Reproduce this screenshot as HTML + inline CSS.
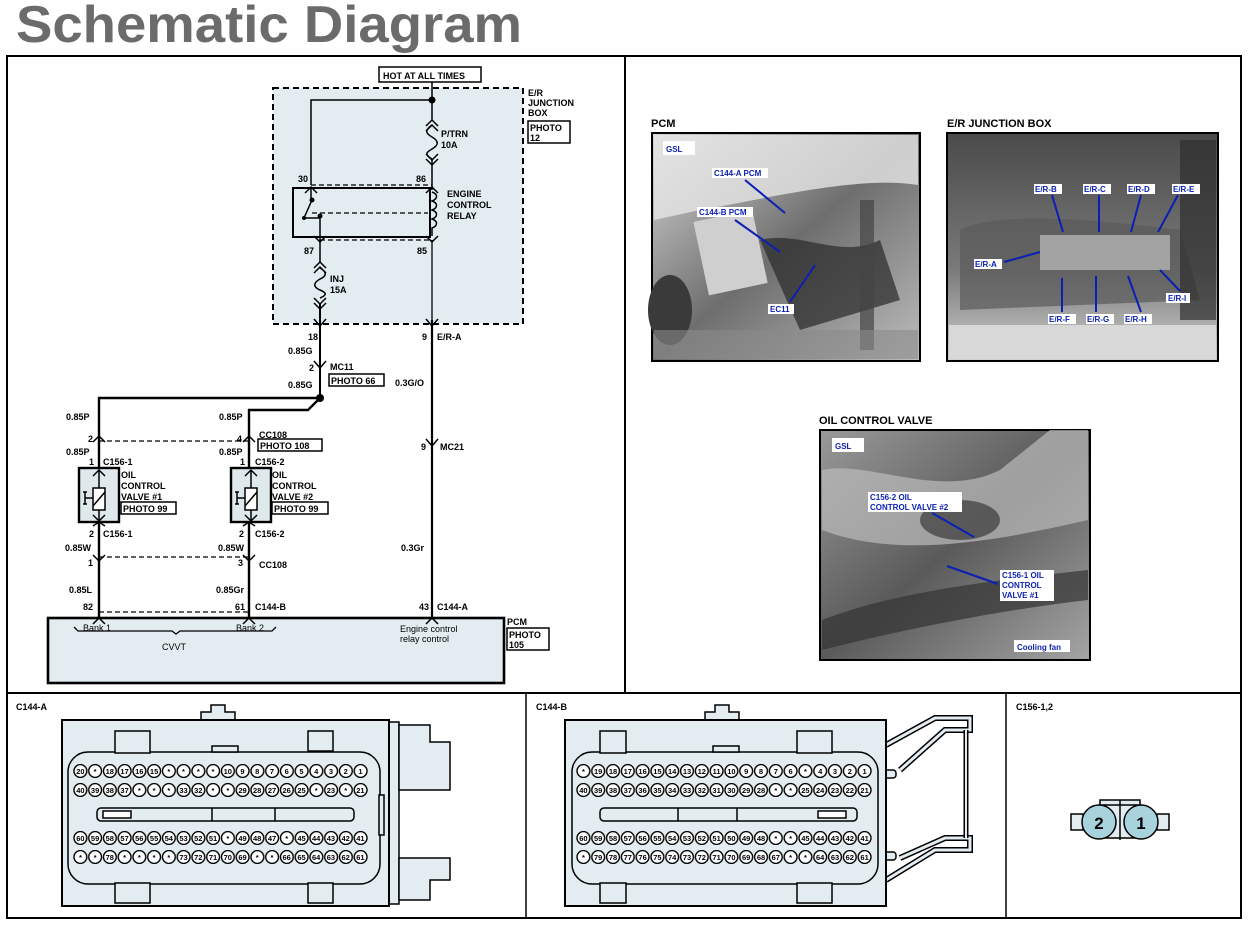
<!DOCTYPE html>
<html><head><meta charset="utf-8"><style>
html,body{margin:0;padding:0;background:#fff;}
svg{display:block;}
text{font-family:"Liberation Sans",sans-serif;}
.s{font-size:9px;font-weight:bold;fill:#000;}
.b{font-size:8px;font-weight:bold;fill:#0a1fb4;}
.p{font-size:7.5px;font-weight:bold;fill:#000;text-anchor:middle;}
</style></head><body>
<svg width="1248" height="926" viewBox="0 0 1248 926" xmlns="http://www.w3.org/2000/svg">
<defs>
<linearGradient id="g1" x1="0" y1="0" x2="1" y2="1"><stop offset="0" stop-color="#d8d8d8"/><stop offset="0.5" stop-color="#6e6e6e"/><stop offset="1" stop-color="#bdbdbd"/></linearGradient>
<linearGradient id="g2" x1="0" y1="0" x2="0" y2="1"><stop offset="0" stop-color="#4a4a4a"/><stop offset="0.6" stop-color="#7a7a7a"/><stop offset="1" stop-color="#cfcfcf"/></linearGradient>
<linearGradient id="g3" x1="0" y1="0" x2="1" y2="1"><stop offset="0" stop-color="#9a9a9a"/><stop offset="0.5" stop-color="#5a5a5a"/><stop offset="1" stop-color="#a5a5a5"/></linearGradient>
<pattern id="pa" x="0" y="0" width="0.05" height="1" patternUnits="objectBoundingBox" patternContentUnits="userSpaceOnUse"><circle cx="7.37" cy="7" r="6.4" fill="#fff" stroke="#000" stroke-width="1.4"/></pattern>
<pattern id="pb" x="0" y="0" width="0.05" height="1" patternUnits="objectBoundingBox" patternContentUnits="userSpaceOnUse"><circle cx="7.4" cy="7" r="6.4" fill="#fff" stroke="#000" stroke-width="1.4"/></pattern>
</defs>

<text x="16" y="42" font-size="52" font-weight="bold" fill="#6b6b6b" textLength="506" lengthAdjust="spacingAndGlyphs">Schematic Diagram</text>

<!-- frames -->
<rect x="7" y="56" width="1234" height="862" fill="none" stroke="#000" stroke-width="2"/>
<line x1="625" y1="56" x2="625" y2="693" stroke="#000" stroke-width="2"/>
<line x1="7" y1="693" x2="1241" y2="693" stroke="#000" stroke-width="2"/>
<line x1="526" y1="693" x2="526" y2="918" stroke="#000" stroke-width="1.5"/>
<line x1="1006" y1="693" x2="1006" y2="918" stroke="#000" stroke-width="1.5"/>

<!-- ===== SCHEMATIC ===== -->
<g stroke="#000" fill="none">
<rect x="273" y="88" width="250" height="236" fill="#e3edf1" stroke-width="2" stroke-dasharray="6,4"/>
<rect x="379" y="67" width="102" height="15" fill="#fff" stroke-width="1.5"/>
<line x1="432" y1="82" x2="432" y2="120" stroke-width="1.5"/>
<polyline points="311,185 311,100 432,100" stroke-width="1.5"/>
<polyline points="426,126 432,120 438,126" stroke-width="1.5"/>
<polyline points="426,131 432,125 438,131" stroke-width="1.5"/>
<path d="M432,125 c-7,5 -7,8 0,12 c7,4 7,8 0,12 c-7,4 -7,6 0,10" stroke-width="1.5"/>
<polyline points="426,154 432,160 438,154" stroke-width="1.5"/>
<polyline points="426,159 432,165 438,159" stroke-width="1.5"/>
<line x1="432" y1="160" x2="432" y2="190" stroke-width="1.5"/>
<line x1="311" y1="185" x2="432" y2="185" stroke-width="1.3" stroke-dasharray="5,3"/>
<polyline points="305,193 311,187 317,193" stroke-width="1.5"/>
<polyline points="426,193 432,187 438,193" stroke-width="1.5"/>
<rect x="293" y="188" width="137" height="49" stroke-width="2"/>
<line x1="311" y1="187" x2="311" y2="200" stroke-width="1.5"/>
<polyline points="312,200 304,218 320,218" stroke-width="1.5"/>
<line x1="320" y1="214" x2="320" y2="242" stroke-width="1.5"/>
<line x1="312" y1="213" x2="428" y2="213" stroke-width="1.3" stroke-dasharray="5,3"/>
<path d="M432,192 c6,2 6,7 0,9 c6,2 6,7 0,9 c6,2 6,7 0,9 c6,2 6,7 0,9 l0,8" stroke-width="1.5"/>
<polyline points="314,236 320,242 326,236" stroke-width="1.5"/>
<polyline points="426,236 432,242 438,236" stroke-width="1.5"/>
<line x1="320" y1="240" x2="432" y2="240" stroke-width="1.3" stroke-dasharray="5,3"/>
<line x1="320" y1="242" x2="320" y2="262" stroke-width="1.5"/>
<polyline points="314,268 320,262 326,268" stroke-width="1.5"/>
<polyline points="314,273 320,267 326,273" stroke-width="1.5"/>
<path d="M320,268 c7,4 7,8 0,11 c-7,4 -7,8 0,11 c7,3 7,5 0,8" stroke-width="1.5"/>
<polyline points="314,298 320,304 326,298" stroke-width="1.5"/>
<polyline points="314,303 320,309 326,303" stroke-width="1.5"/>
<line x1="320" y1="304" x2="320" y2="398" stroke-width="2"/>
<line x1="432" y1="240" x2="432" y2="320" stroke-width="1.3"/>
<line x1="432" y1="320" x2="432" y2="618" stroke-width="2.2"/>
<polyline points="314,319 320,326 326,319" stroke-width="1.5"/>
<polyline points="426,319 432,326 438,319" stroke-width="1.5"/>
<polyline points="314,361 320,368 326,361" stroke-width="1.5"/>
<polyline points="426,439 432,446 438,439" stroke-width="1.5"/>
<rect x="329" y="374" width="55" height="12" stroke-width="1.5"/>
<polyline points="320,398 99,398 99,618" stroke-width="2.4"/>
<polyline points="320,398 308,410 249,410 249,618" stroke-width="2.4"/>
<polyline points="93,442 99,436 105,442" stroke-width="1.5"/>
<polyline points="243,442 249,436 255,442" stroke-width="1.5"/>
<line x1="99" y1="441" x2="249" y2="441" stroke-width="1.3" stroke-dasharray="5,3"/>
<rect x="258" y="439" width="64" height="12" stroke-width="1.5"/>
<rect x="79" y="468" width="40" height="54" fill="#dfe9ec" stroke-width="2.4"/>
<rect x="231" y="468" width="40" height="54" fill="#dfe9ec" stroke-width="2.4"/>
<polyline points="93,476 99,470 105,476" stroke-width="1.5"/>
<polyline points="93,515 99,521 105,515" stroke-width="1.5"/>
<polyline points="245,476 251,470 257,476" stroke-width="1.5"/>
<polyline points="245,515 251,521 257,515" stroke-width="1.5"/>
<line x1="99" y1="470" x2="99" y2="488" stroke-width="1.5"/><line x1="99" y1="510" x2="99" y2="521" stroke-width="1.5"/>
<line x1="251" y1="470" x2="251" y2="488" stroke-width="1.5"/><line x1="251" y1="510" x2="251" y2="521" stroke-width="1.5"/>
<rect x="93" y="488" width="12" height="22" fill="#fff" stroke-width="1.5"/>
<rect x="245" y="488" width="12" height="22" fill="#fff" stroke-width="1.5"/>
<line x1="93" y1="506" x2="105" y2="492" stroke-width="1.5"/><line x1="245" y1="506" x2="257" y2="492" stroke-width="1.5"/>
<path d="M85,492 v12 M83,492 h4 M83,504 h4 M85,498 h8" stroke-width="1.5"/>
<path d="M237,492 v12 M235,492 h4 M235,504 h4 M237,498 h8" stroke-width="1.5"/>
<rect x="121" y="502" width="55" height="12" stroke-width="1.5"/>
<rect x="272" y="502" width="56" height="12" stroke-width="1.5"/>
<polyline points="93,526 99,522 105,526" stroke-width="1.5"/>
<polyline points="243,526 249,522 255,526" stroke-width="1.5"/>
<polyline points="93,555 99,561 105,555" stroke-width="1.5"/>
<polyline points="243,555 249,561 255,555" stroke-width="1.5"/>
<line x1="99" y1="557" x2="249" y2="557" stroke-width="1.3" stroke-dasharray="5,3"/>
<line x1="99" y1="612" x2="249" y2="612" stroke-width="1.3" stroke-dasharray="5,3"/>
<rect x="48" y="618" width="456" height="65" fill="#e3edf1" stroke-width="2.6"/>
<polyline points="93,624 99,618 105,624" stroke-width="1.5"/>
<polyline points="243,624 249,618 255,624" stroke-width="1.5"/>
<polyline points="426,624 432,618 438,624" stroke-width="1.5"/>
<path d="M74,627 l4,4 h94 l4,3 l4,-3 h92 l4,-4" stroke-width="1.3"/>
<rect x="528" y="121" width="42" height="22" stroke-width="1.5"/>
<rect x="507" y="628" width="42" height="22" stroke-width="1.5"/>
</g>
<circle cx="432" cy="100" r="3.5" fill="#000"/>
<circle cx="320" cy="398" r="4" fill="#000"/>
<circle cx="312" cy="200" r="2.5" fill="#000"/>
<circle cx="320" cy="216" r="2.5" fill="#000"/>
<circle cx="304" cy="218" r="2" fill="#000"/>

<g class="s">
<text x="383" y="79">HOT AT ALL TIMES</text>
<text x="528" y="96">E/R</text><text x="528" y="106">JUNCTION</text><text x="528" y="116">BOX</text>
<text x="530" y="131">PHOTO</text><text x="530" y="141">12</text>
<text x="441" y="137">P/TRN</text><text x="441" y="148">10A</text>
<text x="298" y="182">30</text><text x="416" y="182">86</text>
<text x="447" y="197">ENGINE</text><text x="447" y="208">CONTROL</text><text x="447" y="219">RELAY</text>
<text x="304" y="254">87</text><text x="417" y="254">85</text>
<text x="330" y="282">INJ</text><text x="330" y="293">15A</text>
<text x="308" y="340">18</text><text x="422" y="340">9</text><text x="437" y="340">E/R-A</text>
<text x="288" y="354">0.85G</text>
<text x="309" y="371">2</text><text x="330" y="370">MC11</text>
<text x="331" y="384">PHOTO 66</text>
<text x="288" y="388">0.85G</text><text x="395" y="386">0.3G/O</text>
<text x="66" y="420">0.85P</text><text x="219" y="420">0.85P</text>
<text x="88" y="442">2</text><text x="237" y="442">4</text><text x="259" y="438">CC108</text>
<text x="260" y="449">PHOTO 108</text>
<text x="421" y="450">9</text><text x="440" y="450">MC21</text>
<text x="66" y="455">0.85P</text><text x="219" y="455">0.85P</text>
<text x="89" y="465">1</text><text x="103" y="465">C156-1</text>
<text x="240" y="465">1</text><text x="255" y="465">C156-2</text>
<text x="121" y="478">OIL</text><text x="121" y="489">CONTROL</text><text x="121" y="500">VALVE #1</text>
<text x="123" y="512">PHOTO 99</text>
<text x="272" y="478">OIL</text><text x="272" y="489">CONTROL</text><text x="272" y="500">VALVE #2</text>
<text x="274" y="512">PHOTO 99</text>
<text x="89" y="537">2</text><text x="103" y="537">C156-1</text>
<text x="239" y="537">2</text><text x="255" y="537">C156-2</text>
<text x="65" y="551">0.85W</text><text x="218" y="551">0.85W</text><text x="401" y="551">0.3Gr</text>
<text x="88" y="566">1</text><text x="238" y="566">3</text><text x="259" y="568">CC108</text>
<text x="69" y="593">0.85L</text><text x="216" y="593">0.85Gr</text>
<text x="83" y="610">82</text><text x="235" y="610">61</text><text x="255" y="610">C144-B</text>
<text x="419" y="610">43</text><text x="437" y="610">C144-A</text>
<text x="507" y="625">PCM</text><text x="509" y="638">PHOTO</text><text x="509" y="648">105</text>
</g>
<g font-size="9" fill="#000">
<text x="83" y="631">Bank 1</text><text x="236" y="631">Bank 2</text><text x="162" y="650">CVVT</text>
<text x="400" y="632">Engine control</text><text x="400" y="642">relay control</text>
</g>

<!-- ===== PHOTOS ===== -->
<text x="651" y="127" font-size="11" font-weight="bold">PCM</text>
<text x="947" y="127" font-size="11" font-weight="bold">E/R JUNCTION BOX</text>
<text x="819" y="424" font-size="11" font-weight="bold">OIL CONTROL VALVE</text>

<g>
<rect x="652" y="133" width="268" height="228" fill="url(#g1)" stroke="#000" stroke-width="2"/>
<path d="M654,135 H918 V185 C860,175 760,200 700,210 L654,220Z" fill="#e6e6e6" opacity="0.8"/>
<rect x="700" y="215" width="60" height="75" fill="#cfcfcf" transform="rotate(-12 730 250)"/>
<path d="M760,240 C800,230 840,260 880,240 L900,300 L800,330 Z" fill="#2a2a2a" opacity="0.7"/>
<ellipse cx="670" cy="310" rx="22" ry="35" fill="#3a3a3a"/>
<rect x="860" y="200" width="14" height="150" fill="#444" opacity="0.7"/>
<rect x="654" y="330" width="264" height="29" fill="#8a8a8a" opacity="0.6"/>
<rect x="663" y="141" width="32" height="14" fill="#fff"/><text x="666" y="152" class="b" font-size="10">GSL</text>
<rect x="712" y="168" width="56" height="10" fill="#fff"/><text x="714" y="176" class="b">C144-A PCM</text>
<rect x="697" y="207" width="56" height="10" fill="#fff"/><text x="699" y="215" class="b">C144-B PCM</text>
<rect x="768" y="304" width="26" height="10" fill="#fff"/><text x="770" y="312" class="b">EC11</text>
<g stroke="#0a1fb4" stroke-width="2"><line x1="745" y1="180" x2="785" y2="213"/><line x1="735" y1="220" x2="780" y2="252"/><line x1="790" y1="302" x2="815" y2="265"/></g>
</g>

<g>
<rect x="947" y="133" width="271" height="228" fill="url(#g2)" stroke="#000" stroke-width="2"/>
<path d="M960,230 C1000,210 1100,220 1180,230 L1200,300 L960,310Z" fill="#5a5a5a" opacity="0.7"/>
<rect x="1040" y="235" width="130" height="35" fill="#cfcfcf" opacity="0.6"/>
<rect x="949" y="325" width="267" height="34" fill="#d8d8d8"/>
<rect x="1180" y="140" width="36" height="180" fill="#2e2e2e" opacity="0.7"/>
<g class="b"><rect x="1034" y="184" width="28" height="10" fill="#fff"/><text x="1035" y="192">E/R-B</text>
<rect x="1083" y="184" width="28" height="10" fill="#fff"/><text x="1084" y="192">E/R-C</text>
<rect x="1127" y="184" width="28" height="10" fill="#fff"/><text x="1128" y="192">E/R-D</text>
<rect x="1172" y="184" width="28" height="10" fill="#fff"/><text x="1173" y="192">E/R-E</text>
<rect x="974" y="259" width="28" height="10" fill="#fff"/><text x="975" y="267">E/R-A</text>
<rect x="1048" y="314" width="28" height="10" fill="#fff"/><text x="1049" y="322">E/R-F</text>
<rect x="1086" y="314" width="28" height="10" fill="#fff"/><text x="1087" y="322">E/R-G</text>
<rect x="1124" y="314" width="28" height="10" fill="#fff"/><text x="1125" y="322">E/R-H</text>
<rect x="1166" y="293" width="24" height="10" fill="#fff"/><text x="1168" y="301">E/R-I</text></g>
<g stroke="#0a1fb4" stroke-width="2"><line x1="1052" y1="195" x2="1063" y2="232"/><line x1="1099" y1="195" x2="1099" y2="232"/><line x1="1141" y1="195" x2="1131" y2="232"/><line x1="1178" y1="195" x2="1158" y2="232"/><line x1="1004" y1="262" x2="1040" y2="252"/><line x1="1062" y1="312" x2="1062" y2="278"/><line x1="1096" y1="312" x2="1096" y2="276"/><line x1="1141" y1="312" x2="1128" y2="276"/><line x1="1180" y1="291" x2="1160" y2="270"/></g>
</g>

<g>
<rect x="820" y="430" width="270" height="230" fill="url(#g3)" stroke="#000" stroke-width="2"/>
<path d="M822,470 C870,460 940,500 1000,470 L1050,430 H1088 V520 C1000,540 900,560 822,530Z" fill="#bcbcbc" opacity="0.7"/>
<path d="M822,620 C900,590 1000,580 1088,570 V600 C1000,610 900,630 822,650Z" fill="#333" opacity="0.7"/>
<ellipse cx="960" cy="520" rx="40" ry="20" fill="#2a2a2a" opacity="0.6"/>
<rect x="832" y="438" width="32" height="14" fill="#fff"/><text x="835" y="449" class="b" font-size="10">GSL</text>
<rect x="868" y="492" width="94" height="20" fill="#fff"/><text x="870" y="500" class="b">C156-2 OIL</text><text x="870" y="510" class="b">CONTROL VALVE #2</text>
<rect x="1000" y="570" width="54" height="31" fill="#fff"/><text x="1002" y="578" class="b">C156-1 OIL</text><text x="1002" y="588" class="b">CONTROL</text><text x="1002" y="598" class="b">VALVE #1</text>
<rect x="1014" y="640" width="56" height="12" fill="#fff"/><text x="1017" y="650" class="b">Cooling fan</text>
<g stroke="#0a1fb4" stroke-width="2"><line x1="932" y1="513" x2="974" y2="537"/><line x1="998" y1="584" x2="947" y2="566"/></g>
</g>

<!-- ===== CONNECTORS ===== -->
<text x="16" y="710" font-size="9" font-weight="bold">C144-A</text>
<text x="536" y="710" font-size="9" font-weight="bold">C144-B</text>
<text x="1016" y="710" font-size="9" font-weight="bold">C156-1,2</text>

<g stroke="#000" fill="#e3edf1" stroke-width="1.5">
<path d="M201,720 v-8 h10 v-7 h14 v7 h10 v8Z"/>
<rect x="389" y="722" width="10" height="182"/>
<path d="M399,725 H430 V742 H450 V790 H399Z M399,858 H450 V880 H430 V900 H399Z"/>
<rect x="62" y="720" width="327" height="186" stroke-width="2"/>
<rect x="68" y="752" width="312" height="132" rx="20"/>
<rect x="115" y="731" width="35" height="22"/><rect x="308" y="731" width="25" height="20"/>
<rect x="115" y="883" width="35" height="20"/><rect x="308" y="883" width="25" height="20"/>
<rect x="212" y="746" width="26" height="6"/>
<rect x="97" y="808" width="257" height="13" rx="4"/>
<rect x="103" y="811" width="28" height="7" fill="#fff"/>
<line x1="212" y1="808" x2="212" y2="821"/><line x1="275" y1="808" x2="275" y2="821"/>
<rect x="379" y="795" width="5" height="40"/>
</g>
<rect x="73" y="764" width="295" height="14" fill="url(#pa)"/>
<rect x="73" y="783" width="295" height="14" fill="url(#pa)"/>
<rect x="73" y="831" width="295" height="14" fill="url(#pa)"/>
<rect x="73" y="850" width="295" height="14" fill="url(#pa)"/>
<g class="p">
<text y="774"><tspan x="80.4">20</tspan><tspan x="95.1">*</tspan><tspan x="109.8">18</tspan><tspan x="124.6">17</tspan><tspan x="139.3">16</tspan><tspan x="154.1">15</tspan><tspan x="168.8">*</tspan><tspan x="183.5">*</tspan><tspan x="198.3">*</tspan><tspan x="213">*</tspan><tspan x="227.8">10</tspan><tspan x="242.5">9</tspan><tspan x="257.2">8</tspan><tspan x="272">7</tspan><tspan x="286.7">6</tspan><tspan x="301.5">5</tspan><tspan x="316.2">4</tspan><tspan x="330.9">3</tspan><tspan x="345.7">2</tspan><tspan x="360.4">1</tspan></text>
<text y="793"><tspan x="80.4">40</tspan><tspan x="95.1">39</tspan><tspan x="109.8">38</tspan><tspan x="124.6">37</tspan><tspan x="139.3">*</tspan><tspan x="154.1">*</tspan><tspan x="168.8">*</tspan><tspan x="183.5">33</tspan><tspan x="198.3">32</tspan><tspan x="213">*</tspan><tspan x="227.8">*</tspan><tspan x="242.5">29</tspan><tspan x="257.2">28</tspan><tspan x="272">27</tspan><tspan x="286.7">26</tspan><tspan x="301.5">25</tspan><tspan x="316.2">*</tspan><tspan x="330.9">23</tspan><tspan x="345.7">*</tspan><tspan x="360.4">21</tspan></text>
<text y="841"><tspan x="80.4">60</tspan><tspan x="95.1">59</tspan><tspan x="109.8">58</tspan><tspan x="124.6">57</tspan><tspan x="139.3">56</tspan><tspan x="154.1">55</tspan><tspan x="168.8">54</tspan><tspan x="183.5">53</tspan><tspan x="198.3">52</tspan><tspan x="213">51</tspan><tspan x="227.8">*</tspan><tspan x="242.5">49</tspan><tspan x="257.2">48</tspan><tspan x="272">47</tspan><tspan x="286.7">*</tspan><tspan x="301.5">45</tspan><tspan x="316.2">44</tspan><tspan x="330.9">43</tspan><tspan x="345.7">42</tspan><tspan x="360.4">41</tspan></text>
<text y="860"><tspan x="80.4">*</tspan><tspan x="95.1">*</tspan><tspan x="109.8">78</tspan><tspan x="124.6">*</tspan><tspan x="139.3">*</tspan><tspan x="154.1">*</tspan><tspan x="168.8">*</tspan><tspan x="183.5">73</tspan><tspan x="198.3">72</tspan><tspan x="213">71</tspan><tspan x="227.8">70</tspan><tspan x="242.5">69</tspan><tspan x="257.2">*</tspan><tspan x="272">*</tspan><tspan x="286.7">66</tspan><tspan x="301.5">65</tspan><tspan x="316.2">64</tspan><tspan x="330.9">63</tspan><tspan x="345.7">62</tspan><tspan x="360.4">61</tspan></text>
</g>

<g stroke="#000" fill="#e3edf1" stroke-width="1.5">
<path d="M705,720 v-8 h10 v-7 h14 v7 h10 v8Z"/>
<path d="M886,745 L935,718 H970 V730 H945 L900,770" fill="none" stroke-width="6"/>
<path d="M886,745 L935,718 H970 V730 H945 L900,770" fill="none" stroke="#e3edf1" stroke-width="3"/>
<path d="M886,880 L935,850 H970 V838 H945 L900,858" fill="none" stroke-width="6"/>
<path d="M886,880 L935,850 H970 V838 H945 L900,858" fill="none" stroke="#e3edf1" stroke-width="3"/>
<line x1="966" y1="730" x2="966" y2="838" stroke-width="5"/>
<line x1="966" y1="730" x2="966" y2="838" stroke="#e3edf1" stroke-width="2"/>
<rect x="884" y="770" width="12" height="8" rx="3"/><rect x="884" y="852" width="12" height="8" rx="3"/>
<rect x="565" y="720" width="321" height="186" stroke-width="2"/>
<rect x="572" y="752" width="306" height="132" rx="20"/>
<rect x="600" y="731" width="26" height="22"/><rect x="797" y="731" width="35" height="22"/>
<rect x="600" y="883" width="26" height="20"/><rect x="797" y="883" width="35" height="20"/>
<rect x="713" y="746" width="26" height="6"/>
<rect x="600" y="808" width="257" height="13" rx="4"/>
<rect x="818" y="811" width="28" height="7" fill="#fff"/>
<line x1="678" y1="808" x2="678" y2="821"/><line x1="737" y1="808" x2="737" y2="821"/>
</g>
<rect x="576" y="764" width="296" height="14" fill="url(#pb)"/>
<rect x="576" y="783" width="296" height="14" fill="url(#pb)"/>
<rect x="576" y="831" width="296" height="14" fill="url(#pb)"/>
<rect x="576" y="850" width="296" height="14" fill="url(#pb)"/>
<g class="p">
<text y="774"><tspan x="583.4">*</tspan><tspan x="598.2">19</tspan><tspan x="613">18</tspan><tspan x="627.8">17</tspan><tspan x="642.6">16</tspan><tspan x="657.4">15</tspan><tspan x="672.2">14</tspan><tspan x="687">13</tspan><tspan x="701.8">12</tspan><tspan x="716.6">11</tspan><tspan x="731.4">10</tspan><tspan x="746.2">9</tspan><tspan x="761">8</tspan><tspan x="775.8">7</tspan><tspan x="790.6">6</tspan><tspan x="805.4">*</tspan><tspan x="820.2">4</tspan><tspan x="835">3</tspan><tspan x="849.8">2</tspan><tspan x="864.6">1</tspan></text>
<text y="793"><tspan x="583.4">40</tspan><tspan x="598.2">39</tspan><tspan x="613">38</tspan><tspan x="627.8">37</tspan><tspan x="642.6">36</tspan><tspan x="657.4">35</tspan><tspan x="672.2">34</tspan><tspan x="687">33</tspan><tspan x="701.8">32</tspan><tspan x="716.6">31</tspan><tspan x="731.4">30</tspan><tspan x="746.2">29</tspan><tspan x="761">28</tspan><tspan x="775.8">*</tspan><tspan x="790.6">*</tspan><tspan x="805.4">25</tspan><tspan x="820.2">24</tspan><tspan x="835">23</tspan><tspan x="849.8">22</tspan><tspan x="864.6">21</tspan></text>
<text y="841"><tspan x="583.4">60</tspan><tspan x="598.2">59</tspan><tspan x="613">58</tspan><tspan x="627.8">57</tspan><tspan x="642.6">56</tspan><tspan x="657.4">55</tspan><tspan x="672.2">54</tspan><tspan x="687">53</tspan><tspan x="701.8">52</tspan><tspan x="716.6">51</tspan><tspan x="731.4">50</tspan><tspan x="746.2">49</tspan><tspan x="761">48</tspan><tspan x="775.8">*</tspan><tspan x="790.6">*</tspan><tspan x="805.4">45</tspan><tspan x="820.2">44</tspan><tspan x="835">43</tspan><tspan x="849.8">42</tspan><tspan x="864.6">41</tspan></text>
<text y="860"><tspan x="583.4">*</tspan><tspan x="598.2">79</tspan><tspan x="613">78</tspan><tspan x="627.8">77</tspan><tspan x="642.6">76</tspan><tspan x="657.4">75</tspan><tspan x="672.2">74</tspan><tspan x="687">73</tspan><tspan x="701.8">72</tspan><tspan x="716.6">71</tspan><tspan x="731.4">70</tspan><tspan x="746.2">69</tspan><tspan x="761">68</tspan><tspan x="775.8">67</tspan><tspan x="790.6">*</tspan><tspan x="805.4">*</tspan><tspan x="820.2">64</tspan><tspan x="835">63</tspan><tspan x="849.8">62</tspan><tspan x="864.6">61</tspan></text>
</g>

<g stroke="#000" stroke-width="1.5">
<rect x="1100" y="800" width="40" height="12" fill="#e3edf1"/>
<rect x="1071" y="814" width="12" height="16" fill="#e3edf1"/>
<rect x="1157" y="814" width="12" height="16" fill="#e3edf1"/>
<rect x="1100" y="805" width="40" height="33" fill="#e3edf1"/>
<ellipse cx="1099" cy="822" rx="17" ry="17" fill="#a8d3dd"/>
<ellipse cx="1141" cy="822" rx="17" ry="17" fill="#a8d3dd"/>
<line x1="1120" y1="800" x2="1120" y2="840"/>
</g>
<text x="1099" y="829" font-size="17" font-weight="bold" text-anchor="middle">2</text>
<text x="1141" y="829" font-size="17" font-weight="bold" text-anchor="middle">1</text>
</svg>
</body></html>
